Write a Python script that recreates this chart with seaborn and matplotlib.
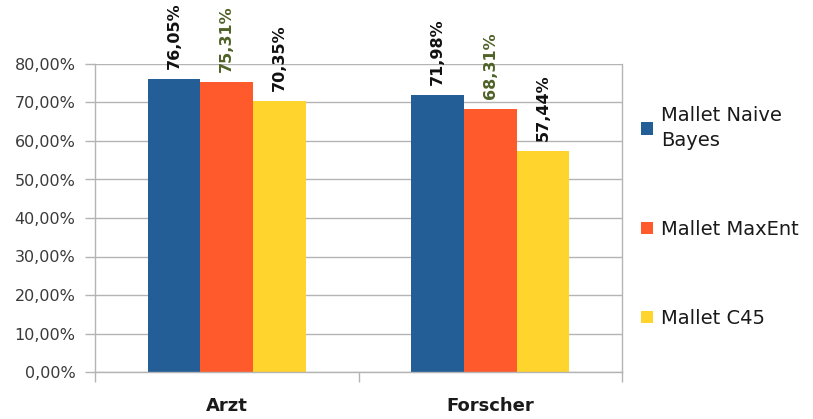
import numpy as np
import pandas as pd
import matplotlib
matplotlib.use('Agg')
import matplotlib.pyplot as plt
from matplotlib.ticker import FuncFormatter, FixedLocator
import seaborn as sns

# data (accuracy in %)
groups = ['Arzt', 'Forscher']
methods = ['Mallet Naive\nBayes', 'Mallet MaxEnt', 'Mallet C45']
naive_bayes = [76.05, 71.98]
maxent = [75.31, 68.31]
c45 = [70.35, 57.44]
y_ticks = [0, 10, 20, 30, 40, 50, 60, 70, 80]

colors = ['#245E97', '#FF5A2B', '#FFD42C']
label_colors = ['#111111', '#4F6228', '#111111']

df = pd.DataFrame({
    'group': groups * 3,
    'method': [methods[0]] * 2 + [methods[1]] * 2 + [methods[2]] * 2,
    'value': naive_bayes + maxent + c45,
})

sns.set_style('white')
plt.rcParams['font.family'] = ['DejaVu Sans']

fig = plt.figure(figsize=(8.13, 4.19), dpi=100)
ax = fig.add_axes([95 / 813, 1 - 372 / 419, (622 - 95) / 813, (372 - 64) / 419])

sns.barplot(data=df, x='group', y='value', hue='method', palette=colors,
            width=0.6, saturation=1, linewidth=0, ax=ax, legend=True)

def pct(v):
    return f'{v:.2f}%'.replace('.', ',')

# value labels above bars, rotated
for cont, col in zip(ax.containers, label_colors):
    vals = [b.get_height() for b in cont]
    txts = ax.bar_label(cont, labels=[pct(v) for v in vals], rotation=90,
                        padding=7, fontsize=11.5, fontweight='bold', color=col)
    for t in txts:
        t.set_clip_on(False)

ax.set_ylim(0, 80)
ax.set_xlim(-0.5, 1.5)
ax.yaxis.set_major_locator(FixedLocator(y_ticks))
ax.yaxis.set_major_formatter(FuncFormatter(lambda v, p: pct(v)))
ax.grid(axis='y', color='#b4b4b4', linewidth=1)
ax.set_axisbelow(True)
ax.tick_params(axis='y', length=7, width=1, color='#b4b4b4', pad=7,
               labelsize=11.5, labelcolor='#3a3a3a', left=True)

# category boundaries as minor ticks
ax.xaxis.set_minor_locator(FixedLocator([-0.5, 0.5, 1.5]))
ax.tick_params(axis='x', which='minor', length=7, width=1, color='#b4b4b4', bottom=True)
ax.tick_params(axis='x', which='major', length=0, pad=18, labelsize=13,
               labelcolor='#1a1a1a')
for lab in ax.get_xticklabels():
    lab.set_fontweight('bold')
ax.set_xlabel('')
ax.set_ylabel('')

for s in ['left', 'right', 'bottom']:
    ax.spines[s].set_color('#b4b4b4')
    ax.spines[s].set_linewidth(1)
ax.spines['top'].set_visible(False)

handles, labels = ax.get_legend_handles_labels()
ax.get_legend().remove()
leg = fig.legend(handles, labels, loc='upper left', bbox_to_anchor=(641 / 813, 1 - 106 / 419),
                 frameon=False, borderpad=0, borderaxespad=0, fontsize=14,
                 handlelength=0.62, handleheight=0.62, handletextpad=0.4,
                 labelspacing=3.6, labelcolor='#1a1a1a')
for t in leg.get_texts():
    t.set_linespacing(1.4)

fig.savefig('out.png', dpi=100)
